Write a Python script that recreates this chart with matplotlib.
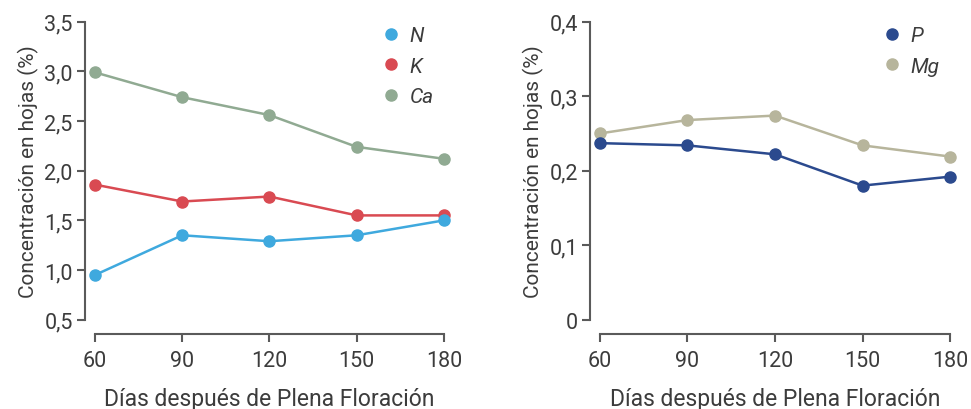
import matplotlib
matplotlib.use("Agg")
import matplotlib.pyplot as plt
from matplotlib.ticker import FuncFormatter
from matplotlib.lines import Line2D

# Días después de plena floración
dias = [60, 90, 120, 150, 180]

# Concentración foliar (%) - macronutrientes principales
N = [0.95, 1.35, 1.29, 1.35, 1.50]
K = [1.86, 1.69, 1.74, 1.55, 1.55]
Ca = [2.99, 2.74, 2.56, 2.24, 2.12]

# Concentración foliar (%) - P y Mg
P = [0.237, 0.234, 0.222, 0.180, 0.192]
Mg = [0.250, 0.268, 0.274, 0.234, 0.219]

left_ticks = [0.5, 1.0, 1.5, 2.0, 2.5, 3.0, 3.5]
right_ticks = [0, 0.1, 0.2, 0.3, 0.4]

C_N = "#3fa9de"
C_K = "#d94a52"
C_CA = "#90aa92"
C_P = "#2b4a8e"
C_MG = "#b7b59c"
AXC = "#5a5a5a"
TXT = "#3c3c3c"

plt.rcParams["font.family"] = ["Roboto", "DejaVu Sans"]

fig = plt.figure(figsize=(9.71, 4.10), dpi=100)
ax1 = fig.add_axes([0.0978, 0.2178, 0.3594, 0.7268])
ax2 = fig.add_axes([0.6179, 0.2178, 0.3605, 0.7268])


def comma_fmt(v, pos):
    if abs(v) < 1e-9:
        return "0"
    return f"{v:.1f}".replace(".", ",")


def style(ax, ylim, yticks):
    ax.set_xlim(60, 180)
    ax.set_ylim(*ylim)
    ax.set_xticks(dias)
    ax.set_yticks(yticks)
    ax.yaxis.set_major_formatter(FuncFormatter(comma_fmt))
    for s in ("top", "right"):
        ax.spines[s].set_visible(False)
    ax.spines["left"].set_position(("outward", 7))
    ax.spines["bottom"].set_position(("outward", 10))
    for s in ("left", "bottom"):
        ax.spines[s].set_color(AXC)
        ax.spines[s].set_linewidth(1.5)
    ax.tick_params(axis="both", colors=AXC, width=1.5, length=6,
                   labelsize=15.5, labelcolor=TXT)
    ax.tick_params(axis="x", pad=6)
    ax.tick_params(axis="y", pad=3)
    ax.set_xlabel("Días después de Plena Floración", fontsize=16.5,
                  color=TXT, labelpad=11)
    ax.set_ylabel("Concentración en hojas (%)", fontsize=15,
                  color=TXT, labelpad=4)
    ax.patch.set_visible(False)


def series(ax, y, c):
    ax.plot(dias, y, color=c, lw=1.8, marker="o", ms=8, mec=c, mfc=c,
            clip_on=False, zorder=3)


series(ax1, Ca, C_CA)
series(ax1, K, C_K)
series(ax1, N, C_N)
style(ax1, (0.5, 3.5), left_ticks)

series(ax2, Mg, C_MG)
series(ax2, P, C_P)
style(ax2, (0, 0.4), right_ticks)


def legend(ax, items):
    handles = [Line2D([], [], ls="none", marker="o", ms=8, mfc=c, mec=c)
               for _, c in items]
    lg = ax.legend(handles, [l for l, _ in items], loc="upper right",
                   bbox_to_anchor=(1.0, 1.02), frameon=False, fontsize=15,
                   handletextpad=0.3, labelspacing=0.55, borderpad=0,
                   handlelength=1.2)
    for t in lg.get_texts():
        t.set_fontstyle("italic")
        t.set_color(TXT)


legend(ax1, [("N", C_N), ("K", C_K), ("Ca", C_CA)])
legend(ax2, [("P", C_P), ("Mg", C_MG)])

fig.savefig("out.png", dpi=100)
